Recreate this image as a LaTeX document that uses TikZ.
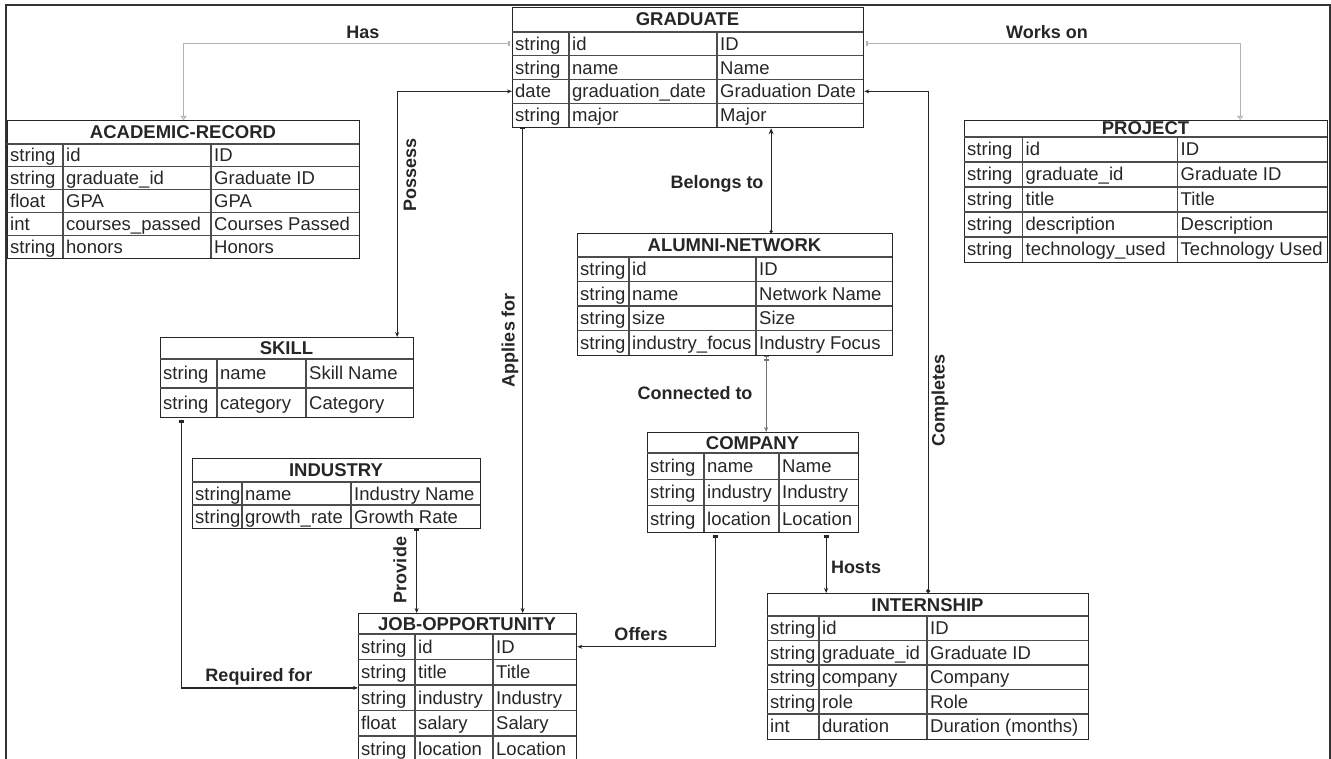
\documentclass[tikz,border=0pt]{standalone}
\usepackage{fontspec}
\setmainfont{Liberation Sans}
\usetikzlibrary{arrows.meta}

\newcommand{\entitytable}[5]{%
  \foreach \cola/\colb/\colc/\cold in {#2}{%
    \foreach \rowa/\rowb/\rowh/\nrows in {#3}{%
      \pgfmathsetmacro\rowz{\rowb+\nrows*\rowh}
      \node[tablebox, anchor=north west,
            minimum width={(\cold-\cola)*1pt},
            minimum height={(\rowz-\rowa)*1pt}] (#1) at (\cola,\rowa) {};
      \node[tabletitle] (#1-title) at ({(\cola+\cold)/2},{(\rowa+\rowb)/2+6.5}) {#4};
      \draw[tableline] (\cola,\rowb) -- (\cold,\rowb);
      \draw[tableline] (\colb,\rowb) -- (\colb,\rowz);
      \draw[tableline] (\colc,\rowb) -- (\colc,\rowz);
      \foreach \ty/\fd/\lb [count=\i] in {#5}{%
        \pgfmathsetmacro\rowm{\rowb+(\i-0.5)*\rowh}
        \coordinate (#1-\i) at ({(\cola+\cold)/2},\rowm);
        \node[cell] (#1-\i-type) at (\cola+3,\rowm+6.5) {\ty};
        \node[cell] (#1-\i-field) at (\colb+3,\rowm+6.5) {\fd};
        \node[cell] (#1-\i-label) at (\colc+3,\rowm+6.5) {\lb};
        \ifnum\i>1 \draw[tableline] (\cola,\rowm-\rowh/2) -- (\cold,\rowm-\rowh/2); \fi
      }
    }
  }
}

\begin{document}
\begin{tikzpicture}[x=1pt, y=-1pt,
    every node/.style={inner sep=0pt, text=black!85},
    tablebox/.style={draw=black!85, line width=1.3pt},
    tableline/.style={draw=black!70, line width=1.1pt},
    tabletitle/.style={anchor=base, font=\fontsize{18.5}{20}\selectfont\bfseries},
    cell/.style={anchor=base west, font=\fontsize{18.5}{20}\selectfont},
    rel/.style={draw=black!85, line width=1.2pt},
    rellight/.style={draw=black!30, line width=1pt},
    rellabel/.style={font=\fontsize{18}{20}\selectfont\bfseries},
    outerframe/.style={draw=black!80, line width=1.5pt}
  ]
  \clip (0,0) rectangle (1331,759);
  \draw[outerframe] (6,770) -- (6,5) -- (1330,5) -- (1330,770);

  \entitytable{graduate}{512/569/717/863}{7/32/23.75/4}{GRADUATE}
    {string/id/ID, string/name/Name, date/graduation\_date/Graduation Date, string/major/Major}
  \entitytable{academic}{7/63/211/359}{120/144/22.8/5}{ACADEMIC-RECORD}
    {string/id/ID, string/graduate\_id/Graduate ID, float/GPA/GPA, int/courses\_passed/Courses Passed, string/honors/Honors}
  \entitytable{project}{964/1022.5/1177.5/1327}{120/137/25/5}{PROJECT}
    {string/id/ID, string/graduate\_id/Graduate ID, string/title/Title, string/description/Description, string/technology\_used/Technology Used}
  \entitytable{alumni}{577/629/756/892}{233/257/24.5/4}{ALUMNI-NETWORK}
    {string/id/ID, string/name/Network Name, string/size/Size, string/industry\_focus/Industry Focus}
  \entitytable{skill}{160/217/306/413}{337/359/29/2}{SKILL}
    {string/name/Skill Name, string/category/Category}
  \entitytable{industry}{192/242/351/480}{458/482/23/2}{INDUSTRY}
    {string/name/Industry Name, string/growth\_rate/Growth Rate}
  \entitytable{company}{647/704/779/858}{432/453/26.3/3}{COMPANY}
    {string/name/Name, string/industry/Industry, string/location/Location}
  \entitytable{job}{358/415/493/576}{613/634/25.5/5}{JOB-OPPORTUNITY}
    {string/id/ID, string/title/Title, string/industry/Industry, float/salary/Salary, string/location/Location}
  \entitytable{intern}{767/819/927/1088}{593/616/24.5/5}{INTERNSHIP}
    {string/id/ID, string/graduate\_id/Graduate ID, string/company/Company, string/role/Role, int/duration/Duration (months)}

  \coordinate (applies) at ([xshift=-165.5pt]graduate.south);
  \coordinate (belongs) at ([xshift=36pt]alumni.north);
  \coordinate (connected) at ([xshift=13pt]company.north);
  \coordinate (hosts) at ([xshift=73pt]company.south);
  \coordinate (provide) at ([xshift=80pt]industry.south);

  \draw[rellight, {Bar[width=5pt,sep=2pt]Bar[width=5pt]}-{Triangle[open,length=4pt,width=6pt]}]
    (graduate-1 -| graduate.west) -| (academic.north);
  \draw[rellight, {Bar[width=5pt,sep=2pt]Bar[width=5pt]}-{Triangle[open,length=4pt,width=6pt]}]
    (graduate-1 -| graduate.east) -| ([xshift=94pt]project.north);
  \draw[rel, {Stealth[length=5pt,width=4pt]}-{Stealth[length=5pt,width=4pt]}]
    (graduate-3 -| graduate.west) -| ([xshift=110pt]skill.north);
  \draw[rel, {Bar[width=5pt]}-{Stealth[length=5pt,width=4pt]}] (applies) -- (applies |- job.north);
  \draw[rel, {Circle[length=3pt]}-{Stealth[length=6pt,width=5pt]}] (belongs) -- (belongs |- graduate.south);
  \draw[rel, {Stealth[length=5pt,width=4pt]}-{Circle[length=4pt]}]
    (graduate-3 -| graduate.east) -| (intern.north);
  \draw[rel, draw=black!55, {Stealth[length=5pt,width=4pt]}-{Bar[width=5pt,sep=2pt]Bar[width=5pt]}]
    (connected) -- (connected |- alumni.south);
  \draw[rel, {Bar[width=5pt,sep=2pt]Bar[width=5pt]}-{Stealth[length=5pt,width=4pt]}] (hosts) -- (hosts |- intern.north);
  \draw[rel, {Bar[width=5pt,sep=2pt]Bar[width=5pt]}-{Stealth[length=5pt,width=4pt]}]
    ([xshift=-38pt]company.south) |- (job-1 -| job.east);
  \draw[rel, {Bar[width=5pt]}-{Stealth[length=5pt,width=4pt]}] (provide) -- (provide |- job.north);
  \draw[rel, {Bar[width=5pt,sep=2pt]Bar[width=5pt]}-{Stealth[length=5pt,width=4pt]}]
    ([xshift=-106pt]skill.south) |- (job.west);

  \node[rellabel] (has-label) at (363,32) {Has};
  \node[rellabel] (works-label) at (1047,32) {Works on};
  \node[rellabel, rotate=90] (possess-label) at (410,175) {Possess};
  \node[rellabel, rotate=90] (applies-label) at (510,340) {Applies for};
  \node[rellabel] (belongs-label) at (717,184) {Belongs to};
  \node[rellabel] (connected-label) at (695,393) {Connected to};
  \node[rellabel, rotate=90] (completes-label) at (940,400) {Completes};
  \node[rellabel] (hosts-label) at (856,567) {Hosts};
  \node[rellabel] (offers-label) at (641,634) {Offers};
  \node[rellabel, rotate=90] (provide-label) at (400,570) {Provide};
  \node[rellabel] (required-label) at (259,677) {Required for};
\end{tikzpicture}
\end{document}
